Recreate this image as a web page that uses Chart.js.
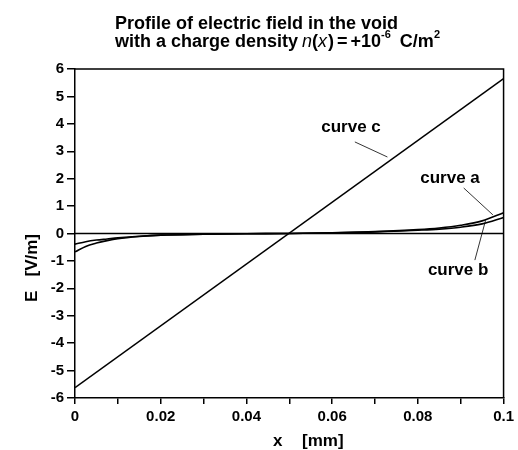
<!DOCTYPE html>
<html>
<head>
<meta charset="utf-8">
<script src="https://cdn.jsdelivr.net/npm/chart.js@4"></script>
<style>
  body { margin: 0; background: #fff; }
  canvas { display: block; }
</style>
</head>
<body>
<canvas id="grafico" width="518" height="450"></canvas>
<script>
// valores
const posX = [0, 0.0025, 0.005, 0.0075, 0.01, 0.015, 0.02, 0.03, 0.04, 0.05, 0.06, 0.07, 0.08, 0.085, 0.09, 0.095, 0.1];
const curvaA = [-0.67, -0.47, -0.35, -0.26, -0.19, -0.11, -0.06, -0.03, -0.01, 0.0, 0.03, 0.07, 0.14, 0.2, 0.3, 0.46, 0.76];
const curvaB = [-0.39, -0.3, -0.24, -0.2, -0.16, -0.1, -0.06, -0.03, -0.01, 0.0, 0.03, 0.06, 0.12, 0.16, 0.23, 0.35, 0.58];
const posXC = [0, 0.1];
const curvaC = [-5.62, 5.65];
const linhaZeroX = [0, 0.1];
const linhaZero = [0, 0];

const fonte = '"Liberation Sans", Arial, sans-serif';

// rotulos das curvas: texto, posicao do texto e linha de chamada (em unidades dos eixos)
const rotulos = [
    { texto: 'curve c', x: 0.0644, y: 3.89, de: [0.0653, 3.34], ate: [0.0729, 2.79] },
    { texto: 'curve a', x: 0.0875, y: 2.03, de: [0.0907, 1.66], ate: [0.0975, 0.68] },
    { texto: 'curve b', x: 0.0894, y: -1.33, de: [0.0933, -0.97], ate: [0.0958, 0.48] }
];

function juntar(xs, ys) {
    return xs.map((x, i) => ({ x: x, y: ys[i] }));
}

const extras = {
    id: 'extras',
    afterDraw(chart) {
        const ctx = chart.ctx;
        const area = chart.chartArea;
        const sx = chart.scales.x;
        const sy = chart.scales.y;
        ctx.save();

        // moldura superior e direita
        ctx.strokeStyle = '#000';
        ctx.lineWidth = 1.5;
        ctx.beginPath();
        ctx.moveTo(area.left, area.top);
        ctx.lineTo(area.right, area.top);
        ctx.lineTo(area.right, area.bottom);
        ctx.stroke();

        // rotulos das curvas
        ctx.fillStyle = '#000';
        ctx.font = 'bold 17px ' + fonte;
        ctx.textAlign = 'center';
        ctx.textBaseline = 'middle';
        ctx.lineWidth = 0.8;
        rotulos.forEach(r => {
            ctx.fillText(r.texto, sx.getPixelForValue(r.x), sy.getPixelForValue(r.y));
            ctx.beginPath();
            ctx.moveTo(sx.getPixelForValue(r.de[0]), sy.getPixelForValue(r.de[1]));
            ctx.lineTo(sx.getPixelForValue(r.ate[0]), sy.getPixelForValue(r.ate[1]));
            ctx.stroke();
        });

        // titulo
        ctx.textAlign = 'left';
        ctx.textBaseline = 'alphabetic';
        ctx.font = 'bold 18px ' + fonte;
        ctx.fillText('Profile of electric field in the void', 115, 29);

        let x = 115;
        const y2 = 47;
        const partes = [
            ['with a charge density', 'bold 18px ', 0, 4],
            ['n', 'italic 18px ', 0, 0],
            ['(', 'bold 18px ', 0, 0],
            ['x', 'italic 18px ', 0, 1],
            [')', 'bold 18px ', 0, 3],
            ['=', 'bold 18px ', 0, 3],
            ['+10', 'bold 18px ', 0, 0],
            ['-6', 'bold 11px ', -9, 9],
            ['C/m', 'bold 18px ', 0, 0],
            ['2', 'bold 11px ', -9, 0]
        ];
        partes.forEach(p => {
            ctx.font = p[1] + fonte;
            ctx.fillText(p[0], x, y2 + p[2]);
            x += ctx.measureText(p[0]).width + p[3];
        });

        // titulos dos eixos
        ctx.font = 'bold 17px ' + fonte;
        ctx.fillText('x', 273, 446);
        ctx.fillText('[mm]', 302, 446);

        ctx.translate(37, 268);
        ctx.rotate(-Math.PI / 2);
        ctx.textAlign = 'center';
        ctx.fillText('E   [V/m]', 0, 0);
        ctx.restore();
    }
};

new Chart(document.getElementById('grafico'), {
    type: 'line',
    data: {
        datasets: [
            { data: juntar(linhaZeroX, linhaZero), borderColor: '#000', borderWidth: 1.5 },
            { data: juntar(posXC, curvaC), borderColor: '#000', borderWidth: 1.5 },
            { data: juntar(posX, curvaA), borderColor: '#000', borderWidth: 1.6, cubicInterpolationMode: 'monotone' },
            { data: juntar(posX, curvaB), borderColor: '#000', borderWidth: 1.6, cubicInterpolationMode: 'monotone' }
        ]
    },
    options: {
        responsive: false,
        animation: false,
        events: [],
        layout: { padding: { top: 69, right: 11, left: 0, bottom: 0 } },
        elements: { point: { radius: 0 } },
        plugins: { legend: { display: false }, tooltip: { enabled: false } },
        scales: {
            x: {
                type: 'linear',
                min: 0,
                max: 0.1,
                afterFit(s) { s.height = 52; },
                grid: { drawOnChartArea: false, drawTicks: true, tickLength: 6, color: '#000', lineWidth: 1.5 },
                border: { display: true, color: '#000', width: 1.5 },
                ticks: {
                    stepSize: 0.01,
                    autoSkip: false,
                    maxRotation: 0,
                    padding: 4,
                    color: '#000',
                    font: { family: fonte, size: 15, weight: 'bold' },
                    callback(v) {
                        const n = Math.round(v * 100);
                        if (n % 2 !== 0) return '';
                        if (n === 0) return '0';
                        if (n === 10) return '0.1';
                        return (n / 100).toFixed(2);
                    }
                }
            },
            y: {
                min: -6,
                max: 6,
                afterFit(s) { s.width = 75; },
                grid: { drawOnChartArea: false, drawTicks: true, tickLength: 8, color: '#000', lineWidth: 1.5 },
                border: { display: true, color: '#000', width: 1.5 },
                ticks: {
                    stepSize: 1,
                    padding: 3,
                    color: '#000',
                    font: { family: fonte, size: 15, weight: 'bold' }
                }
            }
        }
    },
    plugins: [extras]
});
</script>
</body>
</html>
